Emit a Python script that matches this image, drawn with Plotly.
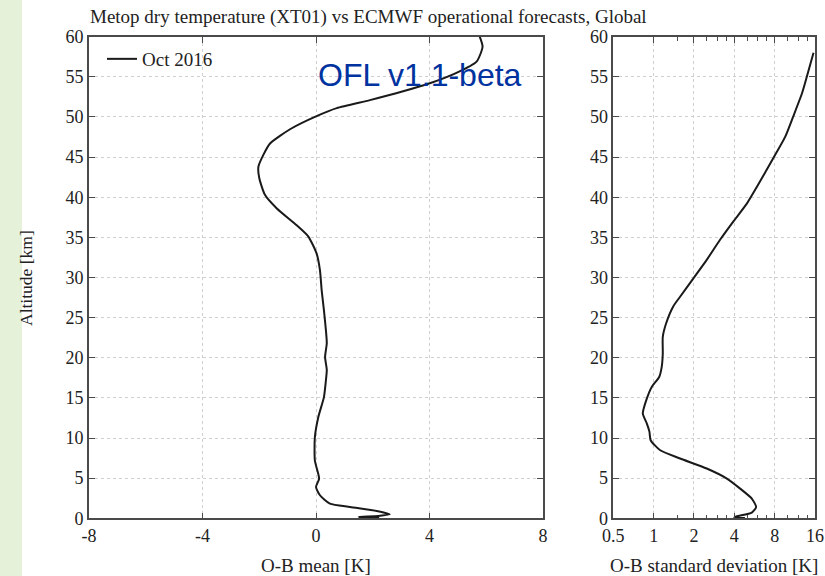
import plotly.graph_objects as go

W, H = 825, 576

# ---- data ----
alt_mean = [60, 58.75, 56.9, 55.5, 54.2, 53.2, 52.1, 51.1, 50.1, 48.5, 46.7, 45.25,
            43.8, 42.4, 40.3, 38.6, 36.5, 35.1, 33.0, 30.9, 28.4, 25.9, 23.4, 21.8,
            20.1, 18.5, 17.2, 15.1, 12.6, 10.1, 7.2, 4.95, 3.9, 2.87, 1.83, 1.41,
            0.91, 0.5, 0.3, 0.18, 0.08, 0.02]
ob_mean = [5.77, 5.87, 5.66, 4.95, 4.01, 3.07, 1.90, 0.73, 0.02, -0.9, -1.62, -1.86,
           -2.03, -2.0, -1.80, -1.38, -0.68, -0.27, 0.02, 0.14, 0.2, 0.28, 0.35, 0.38,
           0.32, 0.38, 0.35, 0.28, 0.08, -0.04, -0.04, 0.11, 0.0, 0.14, 0.49, 1.2,
           2.14, 2.6, 2.2, 1.5, 2.2, 1.5]

alt_std = [58.0, 55.0, 52.95, 50.05, 47.55, 44.85, 41.3, 39.2, 37.0, 34.7, 32.2, 29.9,
           27.6, 26.4, 24.3, 22.6, 20.5, 18.9, 17.6, 16.4, 14.7, 13.06, 11.8, 10.8,
           9.73, 8.48, 7.45, 6.2, 4.95, 3.7, 2.45, 1.41, 0.71, 0.25, 0.1, 0.03]
ob_std = [15.6, 13.9, 12.8, 11.0, 9.6, 7.8, 5.9, 4.96, 3.94, 3.13, 2.49, 1.98,
          1.575, 1.40, 1.24, 1.17, 1.17, 1.15, 1.10, 0.97, 0.88, 0.83, 0.89, 0.93,
          0.95, 1.12, 1.575, 2.49, 3.52, 4.42, 5.40, 5.82, 5.40, 4.18, 4.0, 4.8]

series_name = "Oct 2016"
title_text = "Metop dry temperature (XT01) vs ECMWF operational forecasts, Global"
xlabel_left = "O-B mean [K]"
xlabel_right = "O-B standard deviation [K]"
ylabel = "Altitude [km]"
badge = "OFL v1.1-beta"

mean_ticks = [-8, -4, 0, 4, 8]
mean_ticktext = ["-8", "-4", "0", "4", "8"]
std_ticks = [0.5, 1, 2, 4, 8, 16]
std_ticktext = ["0.5", "1", "2", "4", "8", "16"]
std_minor = [1.5, 2.5, 3, 3.5, 5, 6, 7, 10, 12, 14]
alt_ticks = list(range(0, 61, 5))

# ---- layout helpers (pixel -> paper) ----
def px(x):
    return x / W

def py(y):
    return 1 - y / H

SERIF = "Liberation Serif, Times New Roman, serif"
AX = "#4a4a4a"
GRID = "#cfcfcf"

fig = go.Figure()
fig.add_trace(go.Scatter(x=ob_mean, y=alt_mean, mode="lines", name=series_name,
                         line=dict(color="#1a1a1a", width=2, shape="spline", smoothing=0.6),
                         xaxis="x", yaxis="y", showlegend=True))
fig.add_trace(go.Scatter(x=ob_std, y=alt_std, mode="lines", name=series_name,
                         line=dict(color="#1a1a1a", width=2, shape="spline", smoothing=0.6),
                         xaxis="x2", yaxis="y2", showlegend=False))

common = dict(showline=True, linecolor=AX, linewidth=1.6, ticks="inside", ticklen=6,
              tickcolor=AX, tickwidth=1.2, mirror="allticks", showgrid=True,
              gridcolor=GRID, griddash="dot", gridwidth=1, zeroline=False,
              automargin=False,
              tickfont=dict(family=SERIF, size=18, color="#222"))

fig.update_layout(
    template="none",
    width=W, height=H,
    margin=dict(l=0, r=0, t=0, b=0, autoexpand=False),
    paper_bgcolor="white", plot_bgcolor="white",
    xaxis=dict(domain=[px(89), px(543)], range=[-8, 8], tickvals=mean_ticks,
               ticktext=mean_ticktext, anchor="y", **common),
    yaxis=dict(domain=[py(518.3), py(36.7)], range=[0, 60], tickvals=alt_ticks,
               anchor="x", **common),
    xaxis2=dict(domain=[px(613.3), px(815)], type="log",
                range=[0.69897 - 1, 1.20412], tickvals=std_ticks, ticktext=std_ticktext,
                anchor="y2",
                minor=dict(tickvals=std_minor, ticks="inside", ticklen=4,
                           tickcolor=AX, showgrid=False),
                **common),
    yaxis2=dict(domain=[py(518.3), py(36.7)], range=[0, 60], tickvals=alt_ticks,
                anchor="x2", **common),
    showlegend=True,
    legend=dict(x=px(102), y=py(40), xanchor="left", yanchor="top",
                bgcolor="rgba(0,0,0,0)", borderwidth=0,
                font=dict(family=SERIF, size=19, color="#222"),
                itemwidth=30),
    shapes=[dict(type="rect", xref="paper", yref="paper", x0=0, x1=px(22), y0=0, y1=1,
                 fillcolor="#e5f1d8", line=dict(width=0), layer="below")],
    annotations=[
        dict(text=title_text, xref="paper", yref="paper", x=px(88), y=py(17),
             xanchor="left", yanchor="middle", showarrow=False,
             font=dict(family=SERIF, size=19, color="#222")),
        dict(text=badge, xref="paper", yref="paper", x=px(316), y=py(75),
             xanchor="left", yanchor="middle", showarrow=False,
             font=dict(family="Liberation Sans, Arial, sans-serif", size=32, color="#0033a0")),
        dict(text=xlabel_left, xref="paper", yref="paper", x=px(316), y=py(565),
             xanchor="center", yanchor="middle", showarrow=False,
             font=dict(family=SERIF, size=19, color="#222")),
        dict(text=xlabel_right, xref="paper", yref="paper", x=px(714), y=py(565),
             xanchor="center", yanchor="middle", showarrow=False,
             font=dict(family=SERIF, size=19, color="#222")),
        dict(text=ylabel, xref="paper", yref="paper", x=px(26), y=py(278),
             xanchor="center", yanchor="middle", showarrow=False, textangle=-90,
             font=dict(family=SERIF, size=17.5, color="#222")),
    ],
)

fig.write_html("out.html",
               config={"displayModeBar": False},
               post_script="document.body.style.margin='0';document.body.style.overflow='hidden';")
